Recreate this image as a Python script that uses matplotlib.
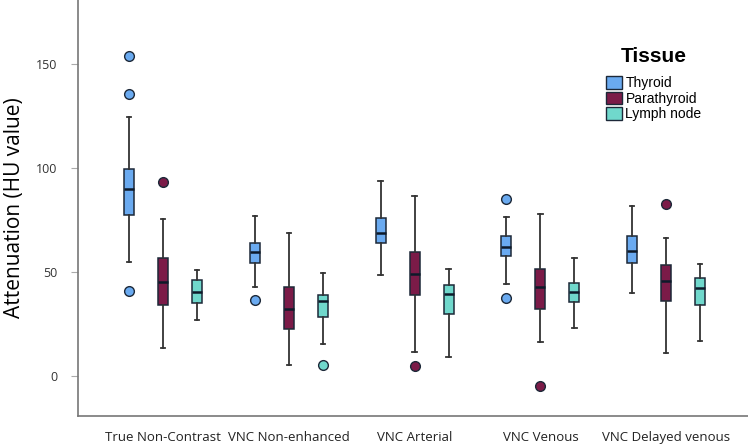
import matplotlib.pyplot as plt
from matplotlib.patches import Patch

# phases on the x axis
phases = ["True Non-Contrast", "VNC Non-enhanced", "VNC Arterial",
          "VNC Venous", "VNC Delayed venous"]
tissues = ["Thyroid", "Parathyroid", "Lymph node"]
colors = ["#6aaaf0", "#7b1b48", "#70d8cc"]

# box stats: (whislo, q1, med, q3, whishi)
thyroid = [(55, 77.3, 90, 99.5, 124.7),
           (42.6, 54.2, 59.6, 63.8, 76.9),
           (48.6, 64.1, 68.6, 76.1, 93.9),
           (44.2, 57.7, 62.2, 67.3, 76.6),
           (40.1, 54.3, 60, 67.2, 81.7)]
parathyroid = [(13.6, 34.1, 45.3, 56.9, 75.5),
               (5.4, 22.4, 32.4, 42.6, 68.9),
               (11.4, 38.9, 48.9, 59.8, 86.7),
               (16.5, 32.1, 42.6, 51.4, 77.7),
               (10.9, 35.9, 45.5, 53.5, 66.5)]
lymph = [(26.9, 35, 40.2, 46.2, 51),
         (15.4, 28.5, 36.2, 38.9, 49.7),
         (9.0, 29.8, 39.4, 43.8, 51.3),
         (22.9, 35.6, 40.4, 44.6, 56.9),
         (16.8, 34.3, 42.5, 47, 53.8)]

# outliers
thyroid_out = [[154, 135.4, 40.9], [36.5], [], [85, 37.3], []]
parathyroid_out = [[93.1], [], [5.0], [-4.6], [82.8]]
lymph_out = [[], [5.4], [], [], []]

series = [(thyroid, thyroid_out), (parathyroid, parathyroid_out), (lymph, lymph_out)]
offsets = [-0.27, 0.0, 0.27]

fig = plt.figure(figsize=(7.48, 4.44), dpi=100)
ax = fig.add_axes([78 / 748, 1 - 416 / 444, 670 / 748, 416 / 444])

edge = "#1c2838"
for (stats, outs), off, col in zip(series, offsets, colors):
    bxp_stats = []
    for s, o in zip(stats, outs):
        bxp_stats.append({"whislo": s[0], "q1": s[1], "med": s[2],
                          "q3": s[3], "whishi": s[4], "fliers": o})
    pos = [i + off for i in range(len(phases))]
    ax.bxp(bxp_stats, positions=pos, widths=0.08, patch_artist=True,
           showfliers=True,
           boxprops=dict(facecolor=col, edgecolor=edge, linewidth=1.1),
           medianprops=dict(color="#0d1a2a", linewidth=1.8),
           whiskerprops=dict(color="#333333", linewidth=1.3),
           capprops=dict(color="#333333", linewidth=1.3),
           capwidths=0.035,
           flierprops=dict(marker="o", markerfacecolor=col, markeredgecolor=edge,
                           markersize=7, markeredgewidth=1.0))

ax.set_xlim(-0.675, 4.65)
ax.set_ylim(-19.2, 180.8)
ax.set_yticks([0, 50, 100, 150])
ax.set_xticks(range(len(phases)))
ax.set_xticklabels(phases, fontsize=9.5, family="Open Sans", color="#222222")
ax.tick_params(axis="x", length=0, pad=11)
ax.tick_params(axis="y", length=5, color="#aaaaaa", labelsize=9, labelcolor="#333333", pad=10)
for lab in ax.get_yticklabels():
    lab.set_family("Open Sans")

for side in ["top", "right"]:
    ax.spines[side].set_visible(False)
for side in ["left", "bottom"]:
    ax.spines[side].set_color("#777777")
    ax.spines[side].set_linewidth(1.2)

ax.set_ylabel("Attenuation (HU value)", fontsize=15, family="Open Sans", labelpad=8)

# legend: title drawn separately so the gap above the entries can be set
handles = [Patch(facecolor=c, edgecolor=edge, label=t) for c, t in zip(colors, tissues)]
leg = ax.legend(handles=handles, frameon=False,
                loc="upper left", bbox_to_anchor=(0.788, 0.8165),
                borderpad=0, borderaxespad=0,
                prop={"family": "Liberation Sans", "size": 10},
                handlelength=1.15, handleheight=1.0, handletextpad=0.25,
                labelspacing=0.1)
ax.text(0.86, 0.864, "Tissue", transform=ax.transAxes, ha="center", va="center",
        fontsize=15, fontweight="bold", family="Liberation Sans")

fig.savefig("out.png", dpi=100)
